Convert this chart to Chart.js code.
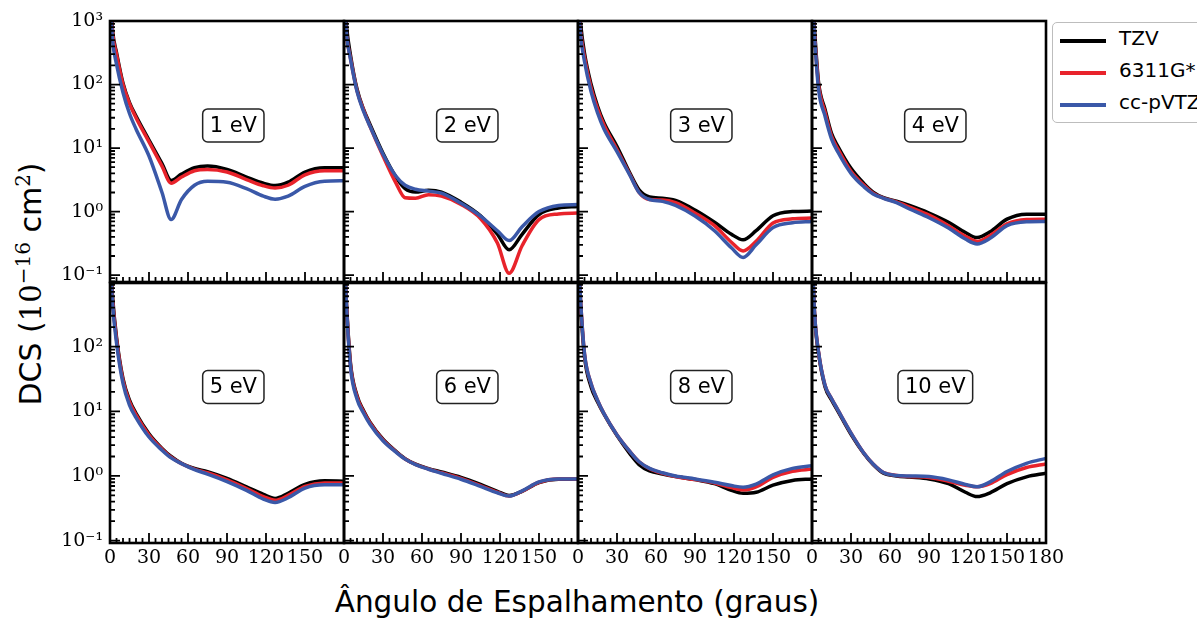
<!DOCTYPE html>
<html>
<head>
<meta charset="utf-8">
<script src="https://cdn.jsdelivr.net/npm/chart.js@4.4.1/dist/chart.umd.min.js"></script>
<style>
  body { margin: 0; background: #fff; }
  #page { position: relative; width: 1197px; height: 621px; overflow: hidden; background: #fff; }
  #page canvas { position: absolute; }
  .ytitle {
    position: absolute; left: 30px; top: 284px;
    transform: translate(-50%, -50%) rotate(-90deg);
    font: 30px "DejaVu Sans", sans-serif; white-space: nowrap; color: #000;
  }
  .ytitle .num { font-family: "DejaVu Serif", serif; font-size: 29px; }
  .ytitle sup { font-family: "DejaVu Serif", serif; font-size: 20px; line-height: 0; }
  .xtitle {
    position: absolute; left: 577px; top: 602px;
    transform: translate(-50%, -50%);
    font: 29.5px "DejaVu Sans", sans-serif; white-space: nowrap; color: #000;
  }
  .legend {
    position: absolute; left: 1052px; top: 22px; width: 170px; height: 99px;
    border: 1.3px solid #bdbdbd; border-radius: 5px; background: #fff;
  }
  .legend .item { position: absolute; left: 0; height: 30px; }
  .legend .swatch { position: absolute; left: 7px; width: 46px; height: 3.5px; }
  .legend .txt { position: absolute; left: 66px; font: 20px "DejaVu Sans", sans-serif; white-space: nowrap; }
</style>
</head>
<body>
<div id="page">
  <div class="ytitle">DCS (<span class="num">10</span><sup>−16</sup> cm<sup>2</sup>)</div>
  <div class="xtitle">Ângulo de Espalhamento (graus)</div>
  <div class="legend" id="legend"></div>
</div>
<script>
// scattering angle (degrees) shared by all curves
const angles = [0, 2, 5, 10, 15, 20, 30, 40, 47, 55, 65, 75, 90, 105, 118, 127, 137, 150, 165, 180];

const energies = ["1 eV", "2 eV", "3 eV", "4 eV", "5 eV", "6 eV", "8 eV", "10 eV"];
const seriesNames = ["TZV", "6311G*", "cc-pVTZ"];
const seriesColors = ["#000000", "#e8232b", "#3a58a8"];

const xTickValues = [0, 30, 60, 90, 120, 150, 180];
const xTickLabels = ["0", "30", "60", "90", "120", "150", "180"];
const yTickValues = [0.1, 1, 10, 100, 1000];
const yTickLabels = ["10⁻¹", "10⁰", "10¹", "10²", "10³"];

// DCS values (10^-16 cm^2)
const tzv1 = [3000, 700, 320, 105, 52, 32, 13.4, 5.7, 3.1, 3.9, 4.9, 5.2, 4.6, 3.5, 2.8, 2.57, 2.9, 4.2, 4.9, 4.9];
const g1 = [3000, 650, 300, 100, 50, 30, 12.5, 5.2, 2.8, 3.5, 4.4, 4.6, 4.2, 3.2, 2.55, 2.35, 2.6, 3.8, 4.4, 4.4];
const cc1 = [2500, 500, 210, 75, 35, 20, 7.5, 2.0, 0.75, 1.55, 2.6, 3.0, 2.9, 2.3, 1.75, 1.57, 1.75, 2.5, 3.0, 3.05];

const tzv2 = [3000, 800, 290, 85, 41, 23.6, 8.3, 3.5, 2.3, 2.03, 2.16, 2.03, 1.41, 0.86, 0.44, 0.25, 0.44, 0.9, 1.14, 1.2];
const g2 = [2500, 600, 260, 80, 40, 22, 7.5, 2.8, 1.65, 1.62, 1.85, 1.75, 1.3, 0.78, 0.32, 0.107, 0.29, 0.75, 0.92, 0.95];
const cc2 = [2500, 600, 250, 78, 38, 22, 8, 3.6, 2.6, 2.25, 2.1, 1.95, 1.35, 0.85, 0.5, 0.35, 0.58, 1.0, 1.25, 1.29];

const tzv3 = [3000, 900, 310, 102, 46, 25, 10.6, 4.0, 2.2, 1.7, 1.63, 1.5, 1.06, 0.68, 0.44, 0.36, 0.5, 0.86, 1.0, 1.02];
const g3 = [2500, 700, 270, 90, 42, 23, 9.5, 3.8, 2.0, 1.55, 1.52, 1.38, 0.95, 0.6, 0.33, 0.24, 0.34, 0.66, 0.77, 0.79];
const cc3 = [2500, 600, 230, 78, 36, 20, 8.8, 3.7, 2.0, 1.55, 1.45, 1.25, 0.85, 0.5, 0.27, 0.19, 0.3, 0.56, 0.67, 0.7];

const tzv4 = [3000, 700, 110, 41, 17, 10.6, 4.8, 2.76, 2.03, 1.66, 1.46, 1.25, 0.95, 0.68, 0.47, 0.39, 0.48, 0.76, 0.91, 0.91];
const g4 = [2500, 600, 100, 37, 15.5, 9.6, 4.3, 2.6, 1.95, 1.63, 1.42, 1.18, 0.88, 0.6, 0.41, 0.34, 0.42, 0.64, 0.75, 0.76];
const cc4 = [2500, 550, 85, 32, 14, 8.6, 4.0, 2.45, 1.9, 1.62, 1.38, 1.1, 0.8, 0.55, 0.37, 0.31, 0.38, 0.6, 0.69, 0.7];

const tzv5 = [3000, 580, 140, 32, 14.9, 9.3, 4.5, 2.67, 2.0, 1.57, 1.31, 1.17, 0.92, 0.68, 0.52, 0.45, 0.54, 0.74, 0.84, 0.83];
const g5 = [2500, 520, 130, 30, 14, 8.8, 4.3, 2.6, 1.95, 1.55, 1.28, 1.12, 0.87, 0.64, 0.48, 0.42, 0.5, 0.69, 0.78, 0.78];
const cc5 = [2500, 450, 115, 27, 12.5, 8.0, 4.0, 2.5, 1.9, 1.55, 1.25, 1.07, 0.82, 0.6, 0.44, 0.39, 0.46, 0.65, 0.73, 0.73];

const tzv6 = [3000, 420, 55, 17.5, 10.3, 6.8, 3.7, 2.4, 1.85, 1.52, 1.3, 1.15, 0.95, 0.74, 0.58, 0.5, 0.58, 0.79, 0.89, 0.89];
const g6 = [3000, 400, 52, 16.8, 9.9, 6.6, 3.6, 2.37, 1.83, 1.51, 1.28, 1.12, 0.92, 0.71, 0.56, 0.49, 0.58, 0.8, 0.9, 0.89];
const cc6 = [3000, 380, 48, 15.5, 9.4, 6.3, 3.5, 2.33, 1.82, 1.5, 1.27, 1.1, 0.89, 0.69, 0.55, 0.49, 0.59, 0.81, 0.9, 0.9];

const tzv8 = [3000, 450, 70, 24, 14, 9.0, 4.2, 2.2, 1.5, 1.2, 1.07, 0.98, 0.88, 0.76, 0.6, 0.54, 0.56, 0.72, 0.85, 0.9];
const g8 = [3000, 500, 78, 27, 14.9, 9.2, 4.3, 2.37, 1.66, 1.3, 1.1, 0.98, 0.88, 0.78, 0.66, 0.61, 0.68, 0.95, 1.18, 1.28];
const cc8 = [3000, 500, 78, 27, 14.9, 9.2, 4.3, 2.37, 1.66, 1.31, 1.12, 1.0, 0.9, 0.8, 0.71, 0.67, 0.75, 1.04, 1.31, 1.44];

const tzv10 = [3000, 300, 80, 24, 15, 10, 4.4, 2.2, 1.5, 1.1, 1.0, 0.96, 0.9, 0.76, 0.56, 0.48, 0.55, 0.76, 0.97, 1.1];
const g10 = [3000, 320, 83, 25.4, 15.8, 10.4, 4.6, 2.24, 1.53, 1.13, 1.02, 0.98, 0.95, 0.83, 0.72, 0.68, 0.76, 1.05, 1.35, 1.53];
const cc10 = [3000, 320, 83, 25.4, 15.8, 10.4, 4.6, 2.24, 1.53, 1.13, 1.02, 1.0, 0.98, 0.87, 0.74, 0.68, 0.81, 1.17, 1.57, 1.87];

const panels = [
  [tzv1, g1, cc1], [tzv2, g2, cc2], [tzv3, g3, cc3], [tzv4, g4, cc4],
  [tzv5, g5, cc5], [tzv6, g6, cc6], [tzv8, g8, cc8], [tzv10, g10, cc10]
];

// layout of the 2x4 grid
const colLeft = [110, 344, 578, 812];
const colWidth = 234;
const rowTop = [21, 283];
const rowHeight = [261, 260];
const rowRange = [[0.078, 1000], [0.092, 962]];
const padL = 70, padT = 20, padR = 30, padB = 50;

const tickFont = { family: '"DejaVu Serif", serif', size: 19 };

const framePlugin = {
  id: "frame",
  afterDatasetsDraw(chart, args, opts) {
    const { ctx, chartArea: a, scales } = chart;
    ctx.save();
    ctx.strokeStyle = "#000";
    ctx.lineWidth = 1.8;
    ctx.beginPath();
    for (let v = 0; v <= 180; v += 5) {
      const px = scales.x.getPixelForValue(v);
      ctx.moveTo(px, a.bottom);
      ctx.lineTo(px, a.bottom - (v % 30 === 0 ? 10 : 5));
    }
    for (let e = -2; e <= 3; e++) {
      for (let m = 1; m <= 9; m++) {
        const v = m * Math.pow(10, e);
        if (v < scales.y.min || v > scales.y.max) continue;
        const py = scales.y.getPixelForValue(v);
        ctx.moveTo(a.left, py);
        ctx.lineTo(a.left + (m === 1 ? 10 : 5), py);
      }
    }
    ctx.stroke();
    ctx.lineWidth = 2.6;
    ctx.strokeRect(a.left, a.top, a.right - a.left, a.bottom - a.top);

    // energy label box
    ctx.font = '21px "DejaVu Sans", sans-serif';
    const tw = ctx.measureText(opts.label).width;
    const cx = a.left + 0.527 * (a.right - a.left);
    const cy = a.bottom - 0.6 * (a.bottom - a.top);
    const bw = tw + 14, bh = 33;
    ctx.beginPath();
    ctx.roundRect(cx - bw / 2, cy - bh / 2, bw, bh, 5);
    ctx.fillStyle = "#fff";
    ctx.fill();
    ctx.lineWidth = 1.5;
    ctx.strokeStyle = "#222";
    ctx.stroke();
    ctx.fillStyle = "#000";
    ctx.textAlign = "center";
    ctx.textBaseline = "middle";
    ctx.fillText(opts.label, cx, cy + 1);
    ctx.restore();
  }
};

const page = document.getElementById("page");

panels.forEach((series, i) => {
  const row = Math.floor(i / 4), col = i % 4;
  const canvas = document.createElement("canvas");
  const w = colWidth + padL + padR, h = rowHeight[row] + padT + padB;
  canvas.width = w; canvas.height = h;
  canvas.style.width = w + "px"; canvas.style.height = h + "px";
  canvas.style.left = (colLeft[col] - padL) + "px";
  canvas.style.top = (rowTop[row] - padT) + "px";
  page.appendChild(canvas);

  const showX = row === 1;
  const showY = col === 0;
  const lastPanel = i === panels.length - 1;

  new Chart(canvas, {
    type: "line",
    data: {
      datasets: series.map((vals, k) => ({
        label: seriesNames[k],
        data: angles.map((a, j) => ({ x: a, y: vals[j] })),
        borderColor: seriesColors[k],
        borderWidth: 3.5,
        pointRadius: 0,
        cubicInterpolationMode: "monotone",
        order: 3 - k
      }))
    },
    options: {
      responsive: false,
      animation: false,
      devicePixelRatio: 1,
      layout: { padding: { left: 0, top: padT, right: padR, bottom: 0 } },
      events: [],
      plugins: {
        legend: { display: false },
        tooltip: { enabled: false },
        frame: { label: energies[i] }
      },
      scales: {
        x: {
          type: "linear",
          min: 0,
          max: 180,
          grid: { display: false, drawTicks: false },
          border: { display: false },
          afterBuildTicks: s => {
            s.ticks = xTickValues
              .filter(v => lastPanel || v < 180)
              .map(v => ({ value: v }));
          },
          afterFit: s => { s.height = padB; },
          ticks: {
            display: showX,
            autoSkip: false,
            maxRotation: 0,
            padding: 4,
            color: "#000",
            font: tickFont,
            callback: v => xTickLabels[xTickValues.indexOf(v)]
          }
        },
        y: {
          type: "logarithmic",
          min: rowRange[row][0],
          max: rowRange[row][1],
          grid: { display: false, drawTicks: false },
          border: { display: false },
          afterBuildTicks: s => {
            s.ticks = yTickValues
              .filter(v => v >= s.min && v <= s.max)
              .map(v => ({ value: v }));
          },
          afterFit: s => { s.width = padL; },
          ticks: {
            display: showY,
            padding: 7,
            color: "#000",
            font: tickFont,
            callback: v => yTickLabels[yTickValues.indexOf(v)]
          }
        }
      }
    },
    plugins: [framePlugin]
  });
});

// legend
const legend = document.getElementById("legend");
seriesNames.forEach((name, k) => {
  const item = document.createElement("div");
  item.className = "item";
  item.style.top = (2 + k * 32) + "px";
  const sw = document.createElement("div");
  sw.className = "swatch";
  sw.style.background = seriesColors[k];
  sw.style.top = "14px";
  const txt = document.createElement("div");
  txt.className = "txt";
  txt.style.top = "1px";
  txt.textContent = name;
  item.appendChild(sw);
  item.appendChild(txt);
  legend.appendChild(item);
});
</script>
</body>
</html>
